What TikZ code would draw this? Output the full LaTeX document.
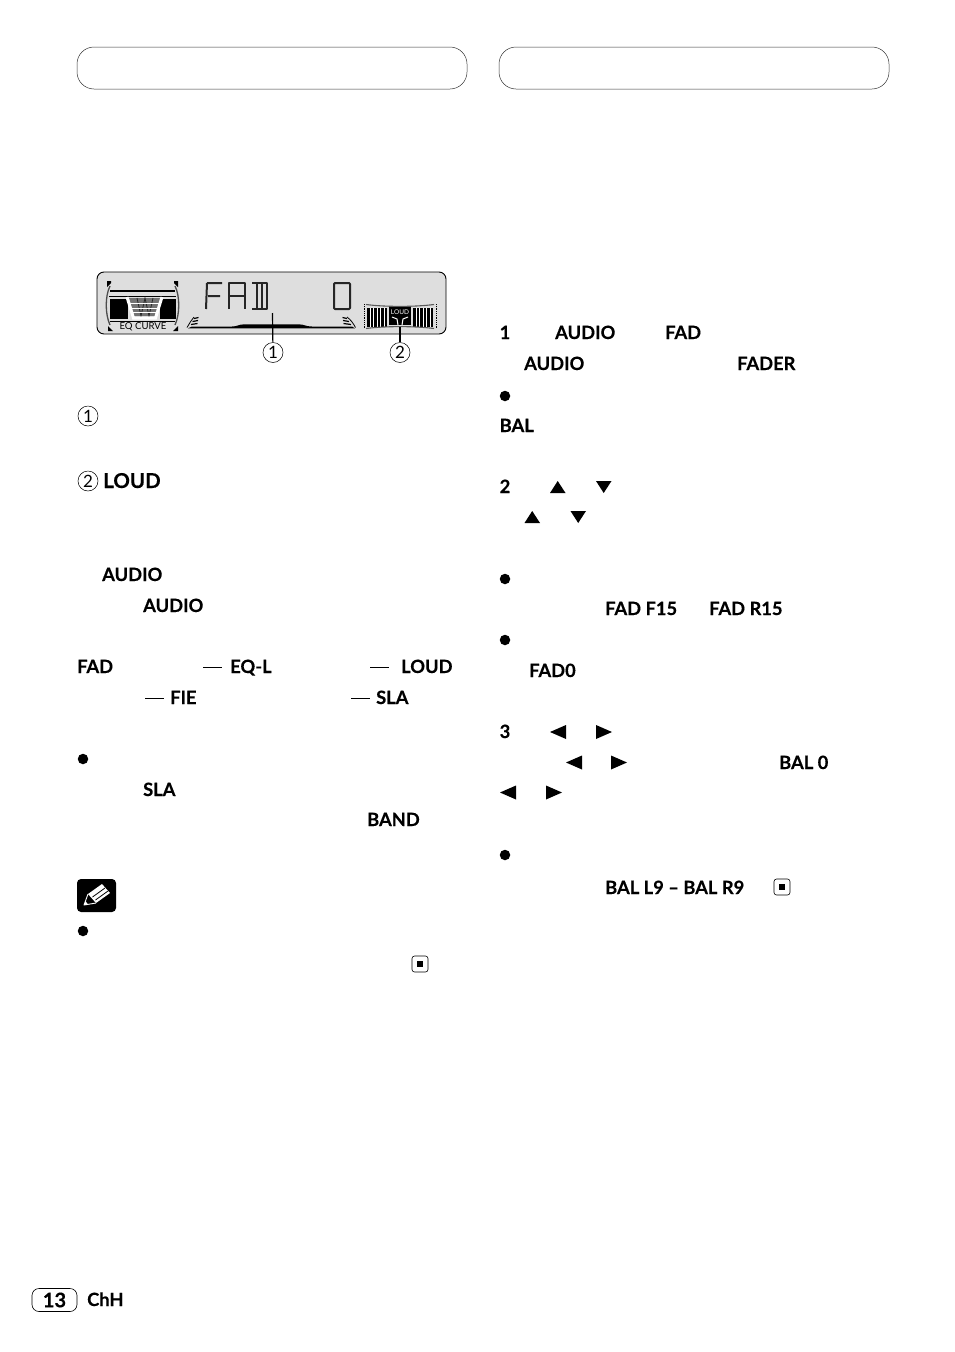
\documentclass[tikz,border=0pt]{standalone}
\usepackage{fontspec}
\setmainfont[BoldFeatures={FakeBold=0.35}]{Lato}
\tikzstyle{manualstyle}=[
    x=1pt, y=-1pt,
    lbl/.style={anchor=base west, inner sep=0pt, font=\fontsize{18.3}{20}\selectfont\bfseries},
    headpill/.style={draw=black!80, line width=0.5pt, rounded corners=17pt},
    circnum/.style={draw, circle, line width=0.5pt, minimum size=20pt, inner sep=0pt, font=\fontsize{17}{17}\selectfont},
    bulletdot/.style={fill, circle, minimum size=10.5pt, inner sep=0pt},
    endbox/.style={draw, line width=0.6pt, rounded corners=2.5pt, minimum size=16pt, inner sep=0pt},
    sep/.style={line width=0.7pt},
    tri/.style={fill=black, draw=none},
    seg/.style={line width=2pt, black!85, line join=round},
]

\begin{document}
\begin{tikzpicture}[manualstyle]
    \useasboundingbox (0,0) rectangle (954,1352);
    % header frames
    \node (headleft) at (272,68) [headpill, minimum width=390pt, minimum height=42pt] {};
    \node (headright) at (694,68) [headpill, minimum width=390pt, minimum height=42pt] {};

    % display
    \draw[fill=black!13, line width=0.9pt, rounded corners=7pt] (97,272) rectangle (446,334);
    \draw[seg] (207,283) -- (222,283) (207,283) -- (206,309) (208,296) -- (220,296);
    \draw[seg] (229,309) -- (229,283) -- (245,283) -- (245,309) (230,296) -- (244,296);
    \draw[seg] (252,283) -- (267,283) -- (267,309) -- (252,309) (257,284) -- (257,308) (262,284) -- (262,308);
    \draw[seg, rounded corners=1pt] (334,283) rectangle (350,309);
    % eq curve
    \draw[line width=1.6pt] (110,291) -- (175,291);
    \draw[line width=1.2pt] (109,296.5) -- (176,296.5);
    \fill (110,299) rectangle (128,319);
    \fill (160,299) rectangle (176,319);
    \fill[black!55] (129,298) -- (161,298) -- (155,316) -- (134,316) -- cycle;
    \draw[black!85, line width=0.8pt] (137,298) -- (141,316) -- (145,298) -- (149,316) -- (153,298);
    \draw[white, line width=0.5pt] (130,303) -- (160,303) (131,308) -- (158,308) (133,312) -- (157,312);
    \draw[white, line width=3pt] (127,297) -- (133.5,318) -- (155.5,318) -- (162,297);
    \draw[line width=1pt] (110,321) -- (175,321);
    \draw[line width=1.3pt, black!70] (110,286) .. controls (105,296) and (105,314) .. (110,325);
    \draw[line width=1.3pt, black!70] (175,286) .. controls (180,296) and (180,314) .. (175,325);
    \fill (107,281) -- (111,281) -- (111,283) -- (107,287) -- cycle;
    \fill (178,281) -- (174,281) -- (174,283) -- (178,287) -- cycle;
    \fill (108,331) -- (113,331) -- (108,326) -- cycle;
    \fill (178,331) -- (173,331) -- (178,326) -- cycle;
    \node (eqcurve) at (143,327) [inner sep=0pt, font=\fontsize{9.6}{10}\selectfont] {EQ CURVE};
    % level band
    \fill (192,326.5) -- (232,326.5) .. controls (238,326.5) and (238,324.3) .. (245,324.3) -- (298,324.3)
        .. controls (305,324.3) and (305,326.5) .. (312,326.5) -- (352,326.5) -- (355,328.3) -- (188,328.3) -- cycle;
    \draw[line width=0.8pt] (187,327.5) .. controls (190,323) and (191,320) .. (194,317);
    \draw[line width=0.8pt] (355.5,327.5) .. controls (353,323) and (351,320) .. (347,317);
    \draw[line width=1.2pt] (194,318.5) -- (198.5,317.5) (192.5,321.5) -- (198,320.5) (191,324.5) -- (197.5,323.5);
    \draw[line width=1.2pt] (342.5,317.5) -- (347,318.5) (343,320.5) -- (349,321.5) (343.5,323.5) -- (351,324.5);
    % loud meter
    \fill (367,308) rectangle (387,327);
    \fill (413,308) rectangle (433,327);
    \foreach \xpos in {370,373.5,377,380.5,384,416,419.5,423,426.5,430}
        \draw[white, line width=0.8pt] (\xpos,308) -- (\xpos,327);
    \fill (389,307) rectangle (411,325);
    \draw[black!65, line width=1.1pt] (366,304.5) .. controls (385,307) and (415,307) .. (434,304.5);
    \draw[black!65, line width=1.1pt] (366,328.5) .. controls (385,326) and (415,326) .. (434,328.5);
    \draw[densely dotted, line width=0.8pt] (364,304) -- (364,329) (436,304) -- (436,329);
    \node (loudicon) at (400,312) [inner sep=0pt, white, font=\fontsize{6.5}{7}\selectfont] {LOUD};
    \draw[white, line width=1pt] (392,317) -- (397,319) -- (398,325) (408,317) -- (403,319) -- (402,325);

    % callouts
    \node (one) at (273,352.5) [circnum] {1};
    \node (two) at (400,352.5) [circnum] {2};
    \coordinate (onetop) at (272.5,313);
    \coordinate (twotop) at (400,327);
    \draw[line width=1.2pt] (onetop) -- (one);
    \draw[line width=1.2pt] (twotop) -- (two);

    % left column
    \node (keyone) at (88,416) [circnum] {1};
    \node (keytwo) at (88,481) [circnum] {2};
    \node (loud) at (103,488) [lbl, font=\fontsize{20.5}{22}\selectfont\bfseries] {LOUD};
    \node (audioa) at (102,581) [lbl] {AUDIO};
    \node (audiob) at (143,612) [lbl] {AUDIO};
    \node (fad) at (77,673) [lbl] {FAD};
    \coordinate (sepa) at (203,667);
    \draw[sep] (sepa) -- ++(19,0);
    \node (eql) at (230,673) [lbl] {EQ-L};
    \coordinate (sepb) at (370,667);
    \draw[sep] (sepb) -- ++(19,0);
    \node (loudb) at (401,673) [lbl] {LOUD};
    \coordinate (sepc) at (145,698);
    \draw[sep] (sepc) -- ++(19,0);
    \node (fie) at (170,704) [lbl] {FIE};
    \coordinate (sepd) at (351,698);
    \draw[sep] (sepd) -- ++(19,0);
    \node (sla) at (376,704) [lbl] {SLA};
    \node (bula) at (83,759) [bulletdot] {};
    \node (slab) at (143,796) [lbl] {SLA};
    \node (band) at (367,826) [lbl] {BAND};
    % note icon
    \fill[rounded corners=4pt] (77,879) rectangle (116,912);
    \fill[white] (88,894) -- (102,884) -- (110,893) -- (96,903) -- cycle;
    \draw[black, line width=0.8pt] (92.5,897) -- (105,888) (95.5,900) -- (108,891);
    \draw[white, line width=0.9pt, line join=round] (88,894) -- (84,905) -- (96,903);
    \fill[white] (84,905) -- (85.5,901) -- (88,904.5) -- cycle;
    \node (bulb) at (83,931) [bulletdot] {};
    \node (enda) at (420,964) [endbox] {};
    \node (endacore) at (420,964) [fill, minimum size=6pt, inner sep=0pt] {};

    % right column
    \node (stepa) at (499.5,339) [lbl] {1};
    \node (audioc) at (555,339) [lbl] {AUDIO};
    \node (fadb) at (665,339) [lbl] {FAD};
    \node (audiod) at (524,370) [lbl] {AUDIO};
    \node (fader) at (737,370) [lbl] {FADER};
    \node (bulc) at (505,396) [bulletdot] {};
    \node (bal) at (499.5,432) [lbl] {BAL};
    \node (stepb) at (499.5,493) [lbl] {2};
    \fill[tri] (550,493) -- (565.5,493) -- (557.7,481) -- cycle;
    \fill[tri] (596,481) -- (611.5,481) -- (603.7,493) -- cycle;
    \fill[tri] (524.5,523) -- (540,523) -- (532.2,511) -- cycle;
    \fill[tri] (570.5,511) -- (586,511) -- (578.2,523) -- cycle;
    \node (buld) at (505,579) [bulletdot] {};
    \node (fadf) at (605,615) [lbl] {FAD F15};
    \node (fadr) at (709,615) [lbl] {FAD R15};
    \node (bule) at (505,640) [bulletdot] {};
    \node (fadzero) at (529,677) [lbl] {FAD0};
    \node (stepc) at (499.5,738) [lbl] {3};
    \fill[tri] (550,732) -- (566,725) -- (566,739) -- cycle;
    \fill[tri] (612,732) -- (596,725) -- (596,739) -- cycle;
    \fill[tri] (566,762.5) -- (582,755.5) -- (582,769.5) -- cycle;
    \fill[tri] (627,762.5) -- (611,755.5) -- (611,769.5) -- cycle;
    \fill[tri] (500,792.5) -- (516,785.5) -- (516,799.5) -- cycle;
    \fill[tri] (562,792.5) -- (546,785.5) -- (546,799.5) -- cycle;
    \node (balzero) at (779,769) [lbl] {BAL 0};
    \node (bulf) at (505,855) [bulletdot] {};
    \node (balrange) at (605,894) [lbl] {BAL L9 – BAL R9};
    \node (endb) at (782,887) [endbox] {};
    \node (endbcore) at (782,887) [fill, minimum size=6pt, inner sep=0pt] {};

    % page number
    \node (pagenum) at (54.5,1300) [draw, line width=0.6pt, rounded corners=7pt, minimum width=45pt, minimum height=23pt, inner sep=0pt, font=\fontsize{20}{20}\selectfont\bfseries] {13};
    \node (chh) at (87,1306) [lbl] {ChH};
\end{tikzpicture}
\end{document}
